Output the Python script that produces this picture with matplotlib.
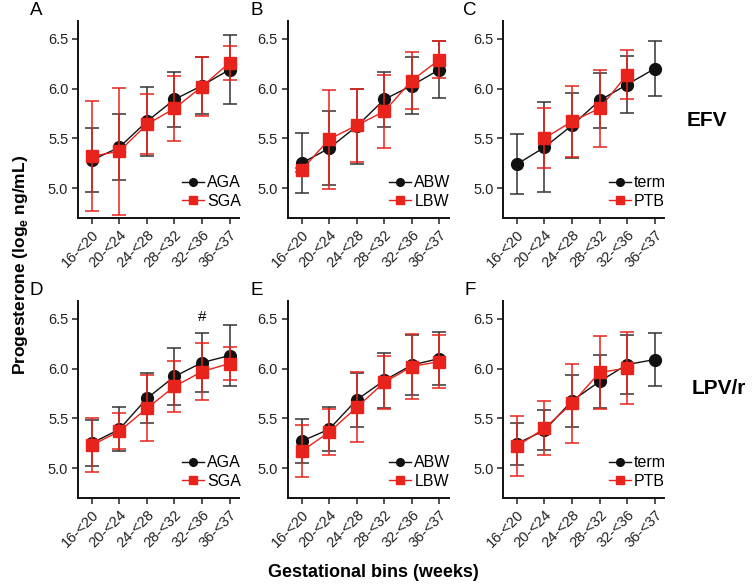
import numpy as np
import matplotlib
matplotlib.use("Agg")
import matplotlib.pyplot as plt
from matplotlib.ticker import FormatStrFormatter

plt.rcParams['font.family'] = ['Liberation Sans', 'DejaVu Sans']

bins = ["16-<20", "20-<24", "24-<28", "28-<32", "32-<36", "36-<37"]
nan = np.nan

# Panel A: EFV, AGA vs SGA
A_aga = [5.28, 5.41, 5.67, 5.89, 6.03, 6.19]
A_aga_err = [0.32, 0.33, 0.35, 0.28, 0.29, 0.35]
A_sga = [5.32, 5.37, 5.64, 5.80, 6.02, 6.26]
A_sga_err = [0.55, 0.64, 0.30, 0.33, 0.30, 0.17]
# Panel B: EFV, ABW vs LBW
B_abw = [5.25, 5.40, 5.62, 5.89, 6.03, 6.19]
B_abw_err = [0.30, 0.37, 0.38, 0.28, 0.29, 0.29]
B_lbw = [5.18, 5.49, 5.63, 5.77, 6.08, 6.29]
B_lbw_err = [0.02, 0.50, 0.37, 0.37, 0.29, 0.185]
# Panel C: EFV, term vs PTB
C_term = [5.24, 5.41, 5.63, 5.88, 6.04, 6.20]
C_term_err = [0.30, 0.45, 0.33, 0.28, 0.29, 0.28]
C_ptb = [nan, 5.50, 5.67, 5.80, 6.14, nan]
C_ptb_err = [nan, 0.30, 0.36, 0.39, 0.25, nan]
# Panel D: LPV/r, AGA vs SGA
D_aga = [5.25, 5.39, 5.70, 5.92, 6.06, 6.13]
D_aga_err = [0.23, 0.22, 0.25, 0.29, 0.30, 0.31]
D_sga = [5.23, 5.37, 5.60, 5.82, 5.97, 6.05]
D_sga_err = [0.27, 0.18, 0.33, 0.26, 0.29, 0.17]
# Panel E: LPV/r, ABW vs LBW
E_abw = [5.27, 5.39, 5.685, 5.88, 6.035, 6.10]
E_abw_err = [0.22, 0.22, 0.27, 0.28, 0.30, 0.27]
E_lbw = [5.17, 5.36, 5.61, 5.86, 6.02, 6.07]
E_lbw_err = [0.26, 0.23, 0.35, 0.27, 0.33, 0.27]
# Panel F: LPV/r, term vs PTB
F_term = [5.245, 5.38, 5.675, 5.87, 6.04, 6.09]
F_term_err = [0.21, 0.20, 0.26, 0.265, 0.30, 0.27]
F_ptb = [5.22, 5.40, 5.65, 5.96, 6.005, nan]
F_ptb_err = [0.30, 0.27, 0.40, 0.37, 0.36, nan]

panels = [
    ("A", "AGA", A_aga, A_aga_err, "SGA", A_sga, A_sga_err),
    ("B", "ABW", B_abw, B_abw_err, "LBW", B_lbw, B_lbw_err),
    ("C", "term", C_term, C_term_err, "PTB", C_ptb, C_ptb_err),
    ("D", "AGA", D_aga, D_aga_err, "SGA", D_sga, D_sga_err),
    ("E", "ABW", E_abw, E_abw_err, "LBW", E_lbw, E_lbw_err),
    ("F", "term", F_term, F_term_err, "PTB", F_ptb, F_ptb_err),
]

BLACK = "#111111"
RED = "#e8231b"

fig = plt.figure(figsize=(7.52, 5.87), dpi=100)
lefts = [0.1037, 0.3826, 0.669]
letter_off = [0.056, 0.041, 0.044]
bottoms = [0.6286, 0.1516]
w, h = 0.2145, 0.336

x = np.arange(len(bins))
for i, (letter, n1, y1, e1, n2, y2, e2) in enumerate(panels):
    row, col = divmod(i, 3)
    ax = fig.add_axes([lefts[col], bottoms[row], w, h])
    ax.errorbar(x, y1, yerr=e1, fmt='none', ecolor="#333333", elinewidth=1.1,
                capsize=5, capthick=1.1, zorder=2)
    ax.plot(x, y1, '-o', color=BLACK, lw=1.0, ms=8.5, label=n1, zorder=3)
    ax.errorbar(x, y2, yerr=e2, fmt='none', ecolor=RED, elinewidth=1.1,
                capsize=5, capthick=1.1, zorder=4)
    ax.plot(x, y2, '-s', color=RED, lw=1.0, ms=8.5, label=n2, zorder=5)
    ax.set_xlim(-0.5, 5.35)
    ax.set_ylim(4.7, 6.68)
    ax.set_yticks([5.0, 5.5, 6.0, 6.5])
    ax.yaxis.set_major_formatter(FormatStrFormatter('%.1f'))
    ax.set_xticks(x)
    ax.set_xticklabels(bins, rotation=45, ha='right', rotation_mode='anchor')
    ax.tick_params(axis='both', labelsize=10.5, length=4, width=1.1,
                   colors='#222222', pad=3)
    for s in ['top', 'right']:
        ax.spines[s].set_visible(False)
    for s in ['left', 'bottom']:
        ax.spines[s].set_linewidth(1.4)
        ax.spines[s].set_color('#111111')
    ax.legend(loc='lower right', bbox_to_anchor=(1.05, 0.015), frameon=False,
              fontsize=11.5, markerscale=0.65, handlelength=1.4,
              handletextpad=0.2, labelspacing=0.22, borderaxespad=0)
    fig.text(lefts[col] - letter_off[col], bottoms[row] + h + 0.017, letter,
             fontsize=13.5, ha='center', va='center')
    if letter == "D":
        ax.text(4, 6.52, "#", ha='center', va='center', fontsize=11)

fig.text(0.94, 0.794, "EFV", fontsize=15, fontweight='bold', ha='center', va='center')
fig.text(0.956, 0.339, "LPV/r", fontsize=15, fontweight='bold', ha='center', va='center')
fig.text(0.027, 0.548, r"Progesterone (log$_\mathregular{e}$ ng/mL)", fontsize=12.5,
         fontweight='bold', rotation=90, ha='center', va='center')
fig.text(0.496, 0.025, "Gestational bins (weeks)", fontsize=13, fontweight='bold',
         ha='center', va='center')

fig.savefig("out.png", dpi=100)
